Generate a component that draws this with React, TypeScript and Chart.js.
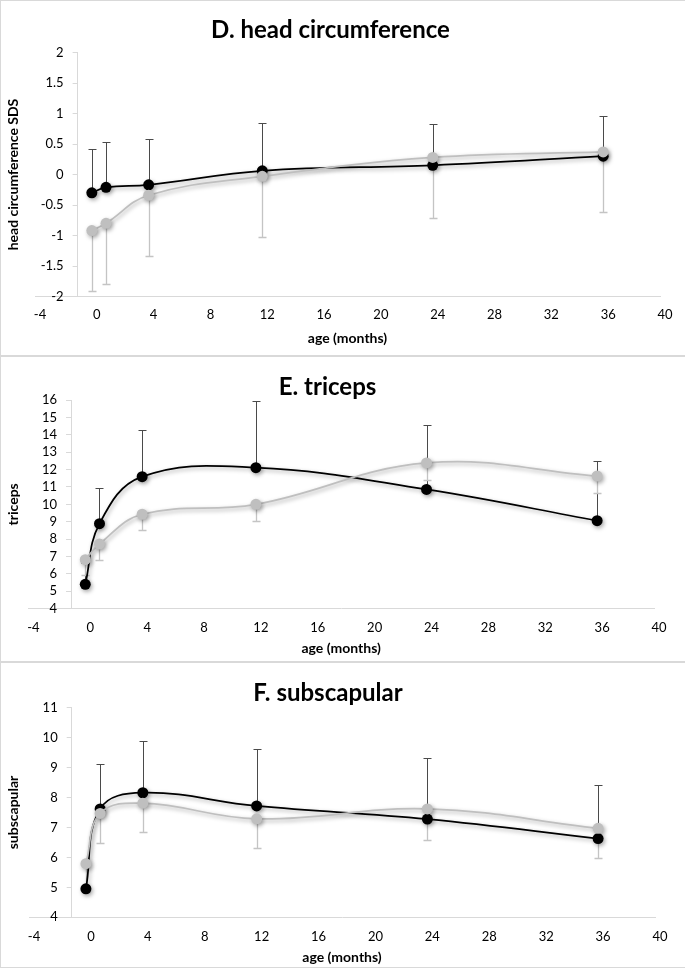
import React, { useEffect, useRef } from 'react';
import { Chart, registerables } from 'chart.js';

Chart.register(...registerables);

// ---------- data ----------
const AGE_MONTHS = [0, 1, 4, 12, 24, 36];
const X_TICKS = [-4, 0, 4, 8, 12, 16, 20, 24, 28, 32, 36, 40];
const Y_AXIS_CROSSES_AT = -1;
const X_TITLE = 'age (months)';

// D. head circumference SDS
const HC_Y_TICKS = [-2, -1.5, -1, -0.5, 0, 0.5, 1, 1.5, 2];
const HC_BLACK = [-0.3, -0.21, -0.17, 0.06, 0.15, 0.3];
const HC_BLACK_SD = [0.71, 0.75, 0.76, 0.78, 0.67, 0.66];
const HC_GRAY = [-0.92, -0.8, -0.34, -0.03, 0.28, 0.37];
const HC_GRAY_SD = [0.99, 0.99, 1.0, 0.99, 0.99, 0.99];

// E. triceps
const TRI_Y_TICKS = [4, 5, 6, 7, 8, 9, 10, 11, 12, 13, 14, 15, 16];
const TRI_BLACK = [5.4, 8.89, 11.59, 12.11, 10.86, 9.06];
const TRI_BLACK_SD = [1.2, 2.03, 2.7, 3.85, 3.68, 3.45];
const TRI_GRAY = [6.82, 7.72, 9.43, 10.0, 12.38, 11.63];
const TRI_GRAY_SD = [0.87, 0.94, 0.92, 0.94, 0.96, 0.96];

// F. subscapular
const SUB_Y_TICKS = [4, 5, 6, 7, 8, 9, 10, 11];
const SUB_BLACK = [4.95, 7.62, 8.16, 7.72, 7.28, 6.63];
const SUB_BLACK_SD = [0.8, 1.5, 1.74, 1.89, 2.04, 1.79];
const SUB_GRAY = [5.79, 7.47, 7.81, 7.29, 7.62, 6.97];
const SUB_GRAY_SD = [0.95, 0.98, 0.96, 0.98, 1.03, 0.99];

// ---------- styles ----------
const FONT = "Lato, 'Open Sans', 'Liberation Sans', sans-serif";
const BLACK = '#000000';
const GRAY = '#bfbfbf';
const BLACK_BAR = '#4a4a4a';
const GRAY_BAR = '#c4c4c4';
const AXIS = '#d9d9d9';
const CANVAS_W = 684;

type Geo = {
  h: number; titleY: number; top: number; bottom: number; left: number; right: number;
  tickGap: number; xTitleY: number; yTitleX: number;
};
type Spec = {
  title: string; yTitle: string; yTicks: number[];
  black: number[]; blackSd: number[]; gray: number[]; graySd: number[]; geo: Geo;
};

const PANELS: Spec[] = [
  {
    title: 'D. head circumference', yTitle: 'head circumference SDS', yTicks: HC_Y_TICKS,
    black: HC_BLACK, blackSd: HC_BLACK_SD, gray: HC_GRAY, graySd: HC_GRAY_SD,
    geo: { h: 354, titleY: 29.5, top: 51.5, bottom: 295.5, left: 34, right: 659, tickGap: 18.5, xTitleY: 337, yTitleX: 12 },
  },
  {
    title: 'E. triceps', yTitle: 'triceps', yTicks: TRI_Y_TICKS,
    black: TRI_BLACK, blackSd: TRI_BLACK_SD, gray: TRI_GRAY, graySd: TRI_GRAY_SD,
    geo: { h: 304, titleY: 30, top: 43, bottom: 251.7, left: 27.4, right: 653, tickGap: 19.6, xTitleY: 291.5, yTitleX: 12 },
  },
  {
    title: 'F. subscapular', yTitle: 'subscapular', yTicks: SUB_Y_TICKS,
    black: SUB_BLACK, blackSd: SUB_BLACK_SD, gray: SUB_GRAY, graySd: SUB_GRAY_SD,
    geo: { h: 304, titleY: 30.5, top: 44.7, bottom: 254.3, left: 28, right: 654, tickGap: 19.4, xTitleY: 294.3, yTitleX: 12 },
  },
];

const fmt = (v: any) => String(Math.round(Number(v) * 100) / 100);

function ChartPanel({ spec }: { spec: Spec }) {
  const ref = useRef<HTMLCanvasElement>(null);

  useEffect(() => {
    const g = spec.geo;
    const TITLE_LH = 24;
    const AXIS_TITLE_SIZE = 14;
    const AXIS_TITLE_LH = AXIS_TITLE_SIZE * 1.2;
    const TICK_SIZE = 13;
    const TICK_LH = TICK_SIZE * 1.2;

    const bars = [
      { means: spec.black, sds: spec.blackSd, dir: 1, color: BLACK_BAR, width: 1 },
      { means: spec.gray, sds: spec.graySd, dir: -1, color: GRAY_BAR, width: 1.3 },
    ];

    const errorAndShadowPlugin = {
      id: 'errorAndShadow',
      beforeDatasetsDraw(chart: any) {
        const { ctx } = chart;
        const xs = chart.scales.x;
        const ys = chart.scales.y;
        for (const b of bars) {
          ctx.save();
          ctx.strokeStyle = b.color;
          ctx.lineWidth = b.width;
          AGE_MONTHS.forEach((age, i) => {
            const sd = b.sds[i];
            if (sd == null) return;
            const px = Math.round(xs.getPixelForValue(age)) + 0.5;
            const y0 = ys.getPixelForValue(b.means[i]);
            const y1 = Math.round(ys.getPixelForValue(b.means[i] + b.dir * sd)) + 0.5;
            ctx.beginPath();
            ctx.moveTo(px, y0);
            ctx.lineTo(px, y1);
            ctx.moveTo(px - 4, y1);
            ctx.lineTo(px + 4, y1);
            ctx.stroke();
          });
          ctx.restore();
        }
        ctx.save();
        ctx.shadowColor = 'rgba(0,0,0,0.35)';
        ctx.shadowBlur = 4;
        ctx.shadowOffsetX = 1.5;
        ctx.shadowOffsetY = 2;
      },
      afterDatasetsDraw(chart: any) {
        chart.ctx.restore();
      },
    };

    const crossPlugin = {
      id: 'yAxisCross',
      afterLayout(chart: any) {
        const xs = chart.scales.x;
        const ys = chart.scales.y;
        const px = xs.getPixelForValue(Y_AXIS_CROSSES_AT);
        ys.left = 0;
        ys.right = px;
        ys.width = px;
      },
    };

    const mk = (vals: number[]) => AGE_MONTHS.map((x, i) => ({ x, y: vals[i] }));
    const lineDs = (label: string, vals: number[], color: string) => ({
      label,
      data: mk(vals),
      borderColor: color,
      backgroundColor: color,
      pointBackgroundColor: color,
      pointBorderColor: color,
      pointRadius: 5.5,
      pointBorderWidth: 0,
      borderWidth: 1.75,
      tension: 0.4,
      fill: false,
    });

    const chart = new Chart(ref.current as HTMLCanvasElement, {
      type: 'line',
      data: {
        datasets: [lineDs('gray', spec.gray, GRAY), lineDs('black', spec.black, BLACK)],
      },
      options: {
        responsive: false,
        animation: false,
        devicePixelRatio: 1,
        events: [],
        layout: { padding: { left: 0, right: CANVAS_W - g.right, top: 0, bottom: 0 } },
        plugins: {
          legend: { display: false },
          tooltip: { enabled: false },
          title: {
            display: true,
            text: spec.title,
            color: '#000',
            font: { family: FONT, size: 24, weight: 'bold', lineHeight: 1 },
            padding: { top: g.titleY - TITLE_LH / 2, bottom: g.top - g.titleY - TITLE_LH / 2 },
          },
        },
        scales: {
          x: {
            type: 'linear',
            position: 'bottom',
            min: X_TICKS[0],
            max: X_TICKS[X_TICKS.length - 1],
            afterFit: (s: any) => { s.height = g.h - g.bottom; },
            afterBuildTicks: (s: any) => { s.ticks = X_TICKS.map((v) => ({ value: v })); },
            grid: { display: false, drawTicks: false },
            border: { display: true, color: AXIS, width: 1 },
            ticks: {
              color: '#000',
              font: { family: FONT, size: TICK_SIZE },
              padding: g.tickGap - TICK_LH / 2,
              labelOffset: 5,
              maxRotation: 0,
              autoSkip: false,
              callback: fmt,
            },
            title: {
              display: true,
              text: X_TITLE,
              color: '#000',
              font: { family: FONT, size: AXIS_TITLE_SIZE, weight: 'bold', lineHeight: 1.2 },
              padding: { top: 0, bottom: g.h - g.xTitleY - AXIS_TITLE_LH / 2 },
            },
          },
          y: {
            type: 'linear',
            position: 'left',
            min: spec.yTicks[0],
            max: spec.yTicks[spec.yTicks.length - 1],
            afterFit: (s: any) => { s.width = g.left; },
            afterBuildTicks: (s: any) => { s.ticks = spec.yTicks.map((v) => ({ value: v })); },
            grid: { display: true, drawOnChartArea: false, drawTicks: true, tickLength: 5, color: AXIS },
            border: { display: true, color: AXIS, width: 1 },
            ticks: { color: '#000', font: { family: FONT, size: TICK_SIZE }, padding: 9, autoSkip: false, callback: fmt },
            title: {
              display: true,
              text: spec.yTitle,
              color: '#000',
              font: { family: FONT, size: AXIS_TITLE_SIZE, weight: 'bold', lineHeight: 1.2 },
              padding: { top: g.yTitleX - AXIS_TITLE_LH / 2, bottom: 0 },
            },
          },
        },
      } as any,
      plugins: [errorAndShadowPlugin, crossPlugin],
    });
    return () => chart.destroy();
  }, [spec]);

  return (
    <div
      style={{
        width: CANVAS_W,
        height: spec.geo.h,
        borderLeft: `1px solid ${AXIS}`,
        borderTop: `1px solid ${AXIS}`,
        borderBottom: `1px solid ${AXIS}`,
        background: '#fff',
      }}
    >
      <canvas ref={ref} width={CANVAS_W} height={spec.geo.h} style={{ display: 'block' }} />
    </div>
  );
}

export default function App() {
  useEffect(() => {
    document.body.style.margin = '0';
    document.body.style.background = '#fff';
  }, []);
  return (
    <div style={{ width: 685, overflow: 'hidden' }}>
      <style>{'body{margin:0;background:#fff}'}</style>
      {PANELS.map((p) => (
        <ChartPanel key={p.title} spec={p} />
      ))}
    </div>
  );
}
